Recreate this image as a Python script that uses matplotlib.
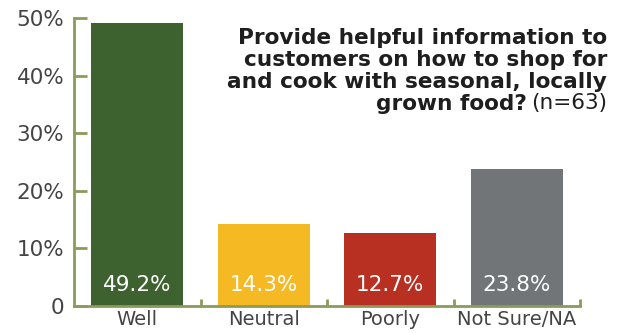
import matplotlib
matplotlib.use('Agg')
import matplotlib.pyplot as plt

categories = ['Well', 'Neutral', 'Poorly', 'Not Sure/NA']
values = [49.2, 14.3, 12.7, 23.8]
colors = ['#3d6230', '#f4b923', '#b83021', '#717578']
yticks = [0, 10, 20, 30, 40, 50]
ytick_labels = ['0', '10%', '20%', '30%', '40%', '50%']

axis_col = '#8a9b5a'
text_col = '#444444'
plt.rcParams['font.family'] = ['DejaVu Sans']

fig = plt.figure(figsize=(6.27, 3.33), dpi=100)
ax = fig.add_axes([74/627, 27/333, 506/627, 288/333])

x = list(range(len(categories)))
ax.bar(x, values, width=0.727, color=colors, zorder=2)
for xi, v in zip(x, values):
    ax.text(xi, 3.6, f'{v:.1f}%', ha='center', va='center',
            color='white', fontsize=15.5, zorder=3)

ax.set_xlim(-0.5, len(categories) - 0.5)
ax.set_ylim(0, 50)

for side in ['top', 'right']:
    ax.spines[side].set_visible(False)
for side in ['left', 'bottom']:
    ax.spines[side].set_color(axis_col)
    ax.spines[side].set_linewidth(2)

ax.set_yticks(yticks)
ax.set_yticklabels(ytick_labels, fontsize=15.5, color=text_col)
ax.tick_params(axis='y', direction='in', length=9, width=2, color=axis_col, pad=7)

ax.set_xticks(x)
ax.set_xticklabels(categories, fontsize=14, color=text_col)
ax.tick_params(axis='x', which='major', length=0, pad=3)
ax.set_xticks([0.5, 1.5, 2.5, 3.5], minor=True)
ax.tick_params(axis='x', which='minor', direction='in', length=5, width=2, color=axis_col)

# title block, right aligned, last line mixes bold and regular
title_lines = ['Provide helpful information to',
               'customers on how to shop for',
               'and cook with seasonal, locally']
right = 607 / 627
line_y = [44, 66, 88, 109.5]
tsize = 15.6
for s, yy in zip(title_lines, line_y):
    fig.text(right, 1 - yy/333, s, ha='right', va='baseline',
             fontsize=tsize, fontweight='bold', color='#1e1e1e')

n_txt = fig.text(right, 1 - line_y[3]/333, '(n=63)', ha='right', va='baseline',
                 fontsize=tsize, color='#1e1e1e')
fig.canvas.draw()
bb = n_txt.get_window_extent()
fig.text(right - (bb.width + 4)/627, 1 - line_y[3]/333, 'grown food?', ha='right',
         va='baseline', fontsize=tsize, fontweight='bold', color='#1e1e1e')

fig.savefig('out.png', dpi=100)
